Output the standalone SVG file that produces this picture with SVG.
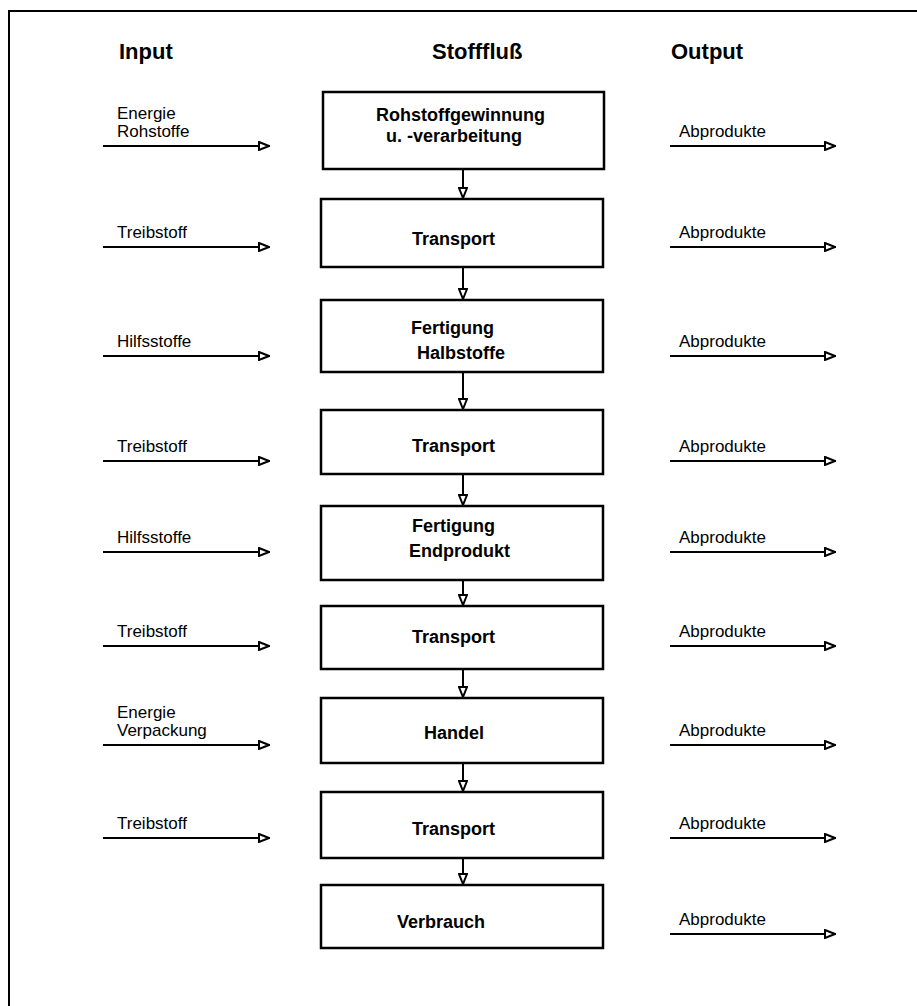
<svg xmlns="http://www.w3.org/2000/svg" width="917" height="1006" viewBox="0 0 917 1006">
<defs>
<style>
.frame{fill:none;stroke:#000;stroke-width:2}
.box{fill:#fff;stroke:#000;stroke-width:2.5}
.ln{fill:none;stroke:#000;stroke-width:2}
.hd{font-family:"Liberation Sans",Arial,sans-serif;font-weight:bold;font-size:22px;fill:#000}
.bt{font-family:"Liberation Sans",Arial,sans-serif;font-weight:bold;font-size:18px;fill:#000}
.lb{font-family:"Liberation Sans",Arial,sans-serif;font-size:17px;fill:#000}
</style>
<marker id="ah" viewBox="0 0 12 10" refX="12" refY="5" markerWidth="12" markerHeight="10" markerUnits="userSpaceOnUse" orient="auto">
<path d="M1,1 L11,5 L1,9 Z" fill="#fff" stroke="#000" stroke-width="2"/>
</marker>
</defs>
<rect width="917" height="1006" fill="#fff"/>
<path class="frame" d="M9,1006 V11 H917"/>
<g id="headers">
<text class="hd" x="119" y="59">Input</text>
<text class="hd" x="432" y="59">Stofffluß</text>
<text class="hd" x="671" y="59">Output</text>
</g>
<g id="n1"><rect class="box" x="323" y="92" width="281" height="77"/><text class="bt" x="376" y="121">Rohstoffgewinnung</text><text class="bt" x="386" y="142">u. -verarbeitung</text></g>
<g id="n2"><rect class="box" x="321" y="199" width="282" height="68"/><text class="bt" x="412" y="245">Transport</text></g>
<g id="n3"><rect class="box" x="321" y="300" width="282" height="72"/><text class="bt" x="411" y="334">Fertigung</text><text class="bt" x="417" y="359">Halbstoffe</text></g>
<g id="n4"><rect class="box" x="321" y="410" width="282" height="64"/><text class="bt" x="412" y="452">Transport</text></g>
<g id="n5"><rect class="box" x="321" y="506" width="282" height="74"/><text class="bt" x="412" y="532">Fertigung</text><text class="bt" x="409" y="557">Endprodukt</text></g>
<g id="n6"><rect class="box" x="321" y="606" width="282" height="63"/><text class="bt" x="412" y="643">Transport</text></g>
<g id="n7"><rect class="box" x="321" y="698" width="282" height="65"/><text class="bt" x="424" y="739">Handel</text></g>
<g id="n8"><rect class="box" x="321" y="792" width="282" height="66"/><text class="bt" x="412" y="835">Transport</text></g>
<g id="n9"><rect class="box" x="321" y="885" width="282" height="63"/><text class="bt" x="397" y="928">Verbrauch</text></g>
<g id="labels">
<text class="lb" x="117" y="119">Energie</text>
<text class="lb" x="117" y="137">Rohstoffe</text>
<text class="lb" x="117" y="238">Treibstoff</text>
<text class="lb" x="117" y="347">Hilfsstoffe</text>
<text class="lb" x="117" y="452">Treibstoff</text>
<text class="lb" x="117" y="543">Hilfsstoffe</text>
<text class="lb" x="117" y="637">Treibstoff</text>
<text class="lb" x="117" y="718">Energie</text>
<text class="lb" x="117" y="736">Verpackung</text>
<text class="lb" x="117" y="829">Treibstoff</text>
<text class="lb" x="679" y="137">Abprodukte</text>
<text class="lb" x="679" y="238">Abprodukte</text>
<text class="lb" x="679" y="347">Abprodukte</text>
<text class="lb" x="679" y="452">Abprodukte</text>
<text class="lb" x="679" y="543">Abprodukte</text>
<text class="lb" x="679" y="637">Abprodukte</text>
<text class="lb" x="679" y="736">Abprodukte</text>
<text class="lb" x="679" y="829">Abprodukte</text>
<text class="lb" x="679" y="925">Abprodukte</text>
</g>
<g id="connectors">
<line class="ln" x1="463" y1="169" x2="463" y2="199" marker-end="url(#ah)"/>
<line class="ln" x1="463" y1="267" x2="463" y2="300" marker-end="url(#ah)"/>
<line class="ln" x1="463" y1="372" x2="463" y2="410" marker-end="url(#ah)"/>
<line class="ln" x1="463" y1="474" x2="463" y2="506" marker-end="url(#ah)"/>
<line class="ln" x1="463" y1="580" x2="463" y2="606" marker-end="url(#ah)"/>
<line class="ln" x1="463" y1="669" x2="463" y2="698" marker-end="url(#ah)"/>
<line class="ln" x1="463" y1="763" x2="463" y2="792" marker-end="url(#ah)"/>
<line class="ln" x1="463" y1="858" x2="463" y2="885" marker-end="url(#ah)"/>
<line class="ln" x1="103" y1="146" x2="270" y2="146" marker-end="url(#ah)"/>
<line class="ln" x1="103" y1="247" x2="270" y2="247" marker-end="url(#ah)"/>
<line class="ln" x1="103" y1="356" x2="270" y2="356" marker-end="url(#ah)"/>
<line class="ln" x1="103" y1="461" x2="270" y2="461" marker-end="url(#ah)"/>
<line class="ln" x1="103" y1="552" x2="270" y2="552" marker-end="url(#ah)"/>
<line class="ln" x1="103" y1="646" x2="270" y2="646" marker-end="url(#ah)"/>
<line class="ln" x1="103" y1="745" x2="270" y2="745" marker-end="url(#ah)"/>
<line class="ln" x1="103" y1="838" x2="270" y2="838" marker-end="url(#ah)"/>
<line class="ln" x1="670" y1="146" x2="836" y2="146" marker-end="url(#ah)"/>
<line class="ln" x1="670" y1="247" x2="836" y2="247" marker-end="url(#ah)"/>
<line class="ln" x1="670" y1="356" x2="836" y2="356" marker-end="url(#ah)"/>
<line class="ln" x1="670" y1="461" x2="836" y2="461" marker-end="url(#ah)"/>
<line class="ln" x1="670" y1="552" x2="836" y2="552" marker-end="url(#ah)"/>
<line class="ln" x1="670" y1="646" x2="836" y2="646" marker-end="url(#ah)"/>
<line class="ln" x1="670" y1="745" x2="836" y2="745" marker-end="url(#ah)"/>
<line class="ln" x1="670" y1="838" x2="836" y2="838" marker-end="url(#ah)"/>
<line class="ln" x1="670" y1="934" x2="836" y2="934" marker-end="url(#ah)"/>
</g>
</svg>
